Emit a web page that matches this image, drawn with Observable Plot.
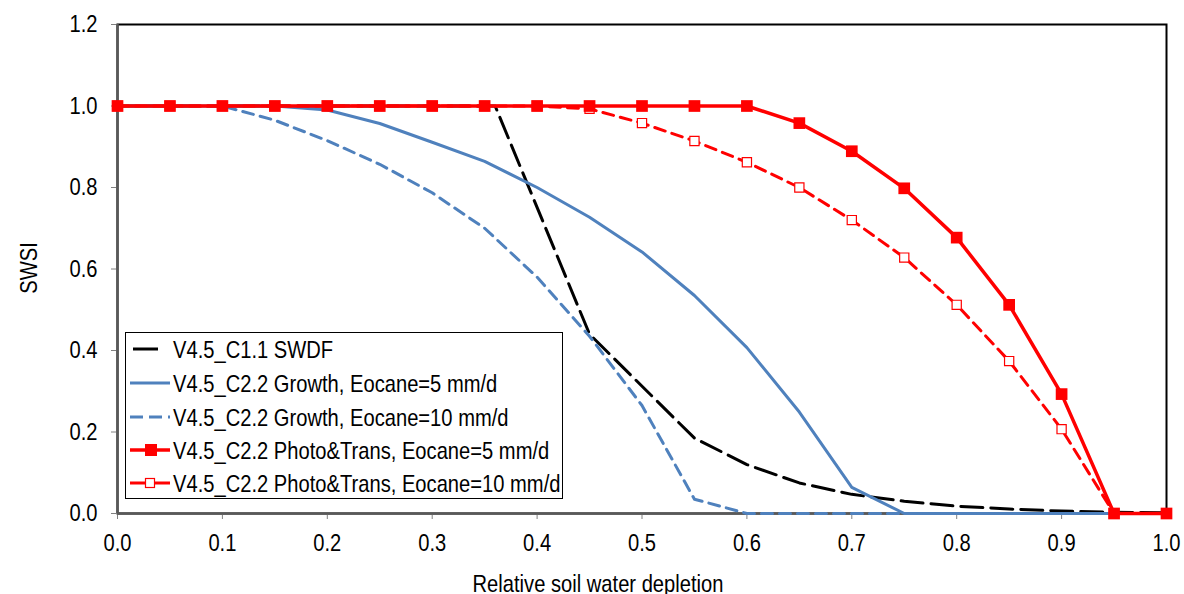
<!DOCTYPE html>
<html>
<head>
<meta charset="utf-8">
<script src="https://cdn.jsdelivr.net/npm/d3@7"></script>
<script src="https://cdn.jsdelivr.net/npm/@observablehq/plot@0.6"></script>
<style>
  html, body { margin: 0; padding: 0; background: #fff; }
  svg { display: block; }
</style>
</head>
<body>
<div id="chart"></div>
<script>
// ---- data ----
const depletion = [0,0.05,0.1,0.15,0.2,0.25,0.3,0.35,0.4,0.45,0.5,0.55,0.6,0.65,0.7,0.75,0.8,0.85,0.9,0.95,1.0];
const swdfX = [0,0.36,0.45,0.55,0.6,0.65,0.7,0.75,0.8,0.85,0.9,0.95,1.0];
const swdfY = [1,1,0.44,0.185,0.12,0.075,0.047,0.03,0.018,0.011,0.006,0.003,0.002];
const growth5 = [1,1,1,1,0.99,0.957,0.911,0.864,0.80,0.727,0.642,0.535,0.407,0.249,0.064,0,0,0,0,0,0];
const growth10 = [1,1,1,0.965,0.915,0.857,0.787,0.70,0.58,0.435,0.265,0.035,0,0,0,0,0,0,0,0,0];
const photo5 = [1,1,1,1,1,1,1,1,1,1,1,1,1,0.958,0.889,0.798,0.677,0.512,0.293,0,0];
const photo10 = [1,1,1,1,1,1,1,1,1,0.993,0.958,0.914,0.862,0.80,0.72,0.628,0.512,0.374,0.207,0,0];
const xTicks = [0,0.1,0.2,0.3,0.4,0.5,0.6,0.7,0.8,0.9,1.0];
const yTicks = [0,0.2,0.4,0.6,0.8,1.0,1.2];
const seriesNames = [
  "V4.5_C1.1 SWDF",
  "V4.5_C2.2 Growth, Eocane=5 mm/d",
  "V4.5_C2.2 Growth, Eocane=10 mm/d",
  "V4.5_C2.2 Photo&Trans, Eocane=5 mm/d",
  "V4.5_C2.2 Photo&Trans, Eocane=10 mm/d"
];
const xLabel = "Relative soil water depletion";
const yLabel = "SWSI";

// ---- tables ----
const swdf = swdfX.map((x, i) => ({x, y: swdfY[i]}));
const toRows = arr => depletion.map((x, i) => ({x, y: arr[i]}));
const g5 = toRows(growth5), g10 = toRows(growth10), p5 = toRows(photo5), p10 = toRows(photo10);

const RED = "#ff0000", BLUE = "#4f81bd";
const FONT = "'Liberation Sans',Arial,sans-serif";
const SX = 0.84; // horizontal condensing to mimic a narrow face

const plot = Plot.plot({
  width: 1184,
  height: 594,
  marginLeft: 117,
  marginRight: 18,
  marginTop: 24,
  marginBottom: 81,
  style: {fontFamily: FONT, fontSize: "24px", color: "#000", background: "#fff"},
  x: {domain: [0, 1]},
  y: {domain: [0, 1.2]},
  marks: [
    Plot.frame({stroke: "#000", strokeWidth: 2}),
    Plot.axisX({ticks: xTicks, tickFormat: d3.format(".1f"), tickSize: 6, tickPadding: 14, fontSize: 24, label: null, stroke: "#808080"}),
    Plot.axisY({ticks: yTicks, tickFormat: d3.format(".1f"), tickSize: 6, tickPadding: 14, fontSize: 24, label: null, stroke: "#808080"}),
    Plot.ruleX([0], {stroke: "#595959", strokeWidth: 2.5}),
    Plot.ruleY([0], {stroke: "#595959", strokeWidth: 2.5}),
    Plot.line(swdf, {x: "x", y: "y", stroke: "#000", strokeWidth: 3, strokeDasharray: "22,8"}),
    Plot.line(g5, {x: "x", y: "y", stroke: BLUE, strokeWidth: 3}),
    Plot.line(g10, {x: "x", y: "y", stroke: BLUE, strokeWidth: 3, strokeDasharray: "11,7"}),
    Plot.line(p10, {x: "x", y: "y", stroke: RED, strokeWidth: 3, strokeDasharray: "11,7"}),
    Plot.dot(p10, {x: "x", y: "y", symbol: "square", r: 5.2, fill: "#fff", stroke: RED, strokeWidth: 1.2}),
    Plot.line(p5, {x: "x", y: "y", stroke: RED, strokeWidth: 3.5}),
    Plot.dot(p5, {x: "x", y: "y", symbol: "square", r: 6.6, fill: RED, stroke: RED, strokeWidth: 0})
  ]
});

document.getElementById("chart").appendChild(plot);
const svg = d3.select(plot);

// condense Plot's tick labels horizontally (keep their x/y/dy attributes)
svg.selectAll("text").each(function () {
  const t = this.getAttribute("transform") || "";
  this.setAttribute("transform", `${t} scale(${SX},1)`);
});

// ---- axis titles and legend ----
function addText(g, x, y, str, anchor, extra = "") {
  return g.append("text")
    .attr("transform", `translate(${x},${y}) ${extra} scale(${SX},1)`)
    .attr("text-anchor", anchor)
    .attr("font-family", FONT).attr("font-size", 24).attr("fill", "#000")
    .text(str);
}
addText(svg, 598, 592, xLabel, "middle");
addText(svg, 37, 268, yLabel, "middle", "rotate(-90)");

const lg = svg.append("g");
lg.append("rect").attr("x", 125.5).attr("y", 332.5).attr("width", 437).attr("height", 166)
  .attr("fill", "#fff").attr("stroke", "#000").attr("stroke-width", 1);
const rowsY = [349, 383, 417, 450, 483];
const styles = [
  {stroke: "#000", dash: "25,20", w: 3, x1: 133, x2: 158},
  {stroke: BLUE, dash: null, w: 3, x1: 130, x2: 170},
  {stroke: BLUE, dash: "13,6", w: 3, x1: 130, x2: 170},
  {stroke: RED, dash: null, w: 3.5, x1: 130, x2: 170, marker: "filled"},
  {stroke: RED, dash: null, w: 3, x1: 130, x2: 170, marker: "hollow"}
];
seriesNames.forEach((name, i) => {
  const s = styles[i], y = rowsY[i];
  const l = lg.append("line").attr("x1", s.x1).attr("x2", s.x2).attr("y1", y).attr("y2", y)
    .attr("stroke", s.stroke).attr("stroke-width", s.w);
  if (s.dash) l.attr("stroke-dasharray", s.dash);
  if (s.marker === "filled") lg.append("rect").attr("x", 145).attr("y", y - 6).attr("width", 12).attr("height", 12).attr("fill", RED);
  if (s.marker === "hollow") lg.append("rect").attr("x", 145.5).attr("y", y - 4.5).attr("width", 9).attr("height", 9).attr("fill", "#fff").attr("stroke", RED).attr("stroke-width", 1.2);
  addText(lg, 173, y + 8.5, name, "start");
});
</script>
</body>
</html>
